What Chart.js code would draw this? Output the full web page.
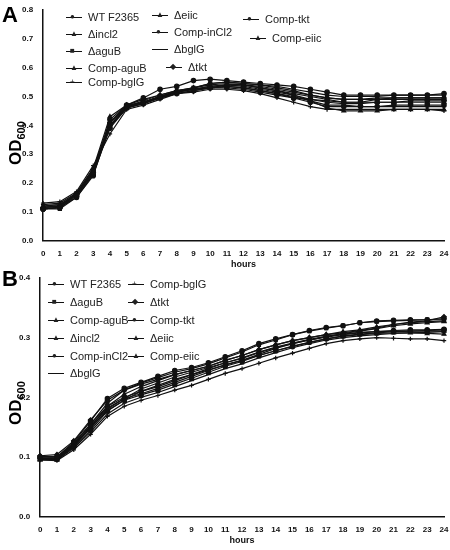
<!DOCTYPE html>
<html><head><meta charset="utf-8">
<script src="https://cdn.jsdelivr.net/npm/chart.js@4"></script>
<style>
body{margin:0;background:#fff;font-family:Arial,"Liberation Sans",sans-serif;}
#wrap{position:relative;width:450px;height:550px;}
canvas{position:absolute;left:0;}
.lab{position:absolute;font-weight:bold;font-size:22px;}
.yt{position:absolute;font-weight:bold;font-size:17px;transform:rotate(-90deg);transform-origin:left top;white-space:nowrap;}
.yt sub{font-size:11px;}
.leg{position:absolute;font-size:11px;color:#222;white-space:nowrap;display:flex;align-items:center;height:14px;}
.sw{position:relative;display:inline-block;width:16px;height:14px;margin-right:6px;}
.sw .ln{position:absolute;left:0;top:7px;width:16px;border-top:1.3px solid #111;}
.sw .mk{position:absolute;left:4px;top:0;font-size:8px;line-height:14px;}
</style></head><body>
<div id="wrap">
<canvas id="a" width="450" height="270" style="top:0"></canvas>
<canvas id="b" width="450" height="280" style="top:270px"></canvas>
<div class="lab" style="left:2px;top:2px">A</div>
<div class="lab" style="left:2px;top:266px">B</div>
<div class="yt" style="left:6px;top:165px">OD<sub>600</sub></div>
<div class="yt" style="left:6px;top:425px">OD<sub>600</sub></div>
<div id="legs"></div>
</div>
<script>
const hours=[0,1,2,3,4,5,6,7,8,9,10,11,12,13,14,15,16,17,18,19,20,21,22,23,24].map(String);
const namesA=["WT F2365","Δincl2","ΔaguB","Comp-aguB","Comp-bglG","Δeiic","Comp-inCl2","ΔbglG","Δtkt","Comp-tkt","Comp-eiic"];
const A_wt   =[0.110,0.115,0.160,0.240,0.420,0.470,0.495,0.525,0.535,0.555,0.560,0.555,0.550,0.545,0.540,0.535,0.525,0.515,0.505,0.505,0.505,0.505,0.505,0.505,0.510];
const A_incl2=[0.115,0.120,0.165,0.250,0.430,0.470,0.480,0.500,0.520,0.530,0.540,0.545,0.540,0.530,0.520,0.510,0.500,0.490,0.480,0.480,0.490,0.490,0.490,0.490,0.490];
const A_agub =[0.110,0.110,0.150,0.230,0.400,0.460,0.480,0.500,0.515,0.530,0.545,0.550,0.545,0.540,0.535,0.525,0.515,0.505,0.500,0.500,0.500,0.505,0.505,0.505,0.505];
const A_cagub=[0.120,0.125,0.160,0.245,0.410,0.465,0.485,0.505,0.520,0.525,0.535,0.540,0.535,0.525,0.515,0.505,0.490,0.480,0.475,0.475,0.480,0.480,0.480,0.480,0.480];
const A_cbglg=[0.130,0.135,0.170,0.260,0.370,0.455,0.470,0.490,0.510,0.515,0.525,0.525,0.520,0.510,0.495,0.480,0.465,0.455,0.455,0.455,0.455,0.455,0.455,0.455,0.450];
const A_eiic =[0.115,0.120,0.160,0.240,0.410,0.465,0.480,0.500,0.515,0.525,0.535,0.540,0.540,0.535,0.525,0.515,0.505,0.495,0.490,0.490,0.495,0.495,0.495,0.495,0.495];
const A_cincl=[0.110,0.115,0.155,0.230,0.390,0.460,0.475,0.495,0.510,0.520,0.530,0.535,0.530,0.520,0.510,0.495,0.480,0.465,0.465,0.465,0.465,0.470,0.470,0.470,0.470];
const A_bglg =[0.125,0.130,0.165,0.250,0.400,0.460,0.475,0.495,0.515,0.525,0.530,0.535,0.530,0.520,0.510,0.500,0.485,0.470,0.470,0.465,0.465,0.465,0.465,0.465,0.465];
const A_tkt  =[0.115,0.120,0.160,0.235,0.410,0.470,0.490,0.505,0.520,0.530,0.545,0.550,0.545,0.540,0.530,0.520,0.505,0.495,0.490,0.490,0.490,0.495,0.495,0.495,0.495];
const A_ctkt =[0.110,0.115,0.150,0.225,0.400,0.465,0.480,0.500,0.515,0.525,0.530,0.530,0.525,0.515,0.505,0.495,0.490,0.485,0.480,0.480,0.480,0.480,0.485,0.485,0.485];
const A_ceiic=[0.120,0.125,0.160,0.240,0.395,0.460,0.480,0.495,0.510,0.520,0.530,0.540,0.540,0.530,0.520,0.505,0.485,0.460,0.450,0.450,0.450,0.455,0.455,0.455,0.455];
const seriesA=[A_wt,A_incl2,A_agub,A_cagub,A_cbglg,A_eiic,A_cincl,A_bglg,A_tkt,A_ctkt,A_ceiic];
const stylesA=["circle","triangle","rect","triangle","cross","triangle","circle","line","rectRot","circle","triangle"];

const namesB=["WT F2365","ΔaguB","Comp-aguB","Δincl2","Comp-inCl2","ΔbglG","Comp-bglG","Δtkt","Comp-tkt","Δeiic","Comp-eiic"];
const B_wt   =[0.100,0.100,0.125,0.160,0.198,0.215,0.225,0.235,0.245,0.250,0.258,0.268,0.278,0.290,0.298,0.305,0.312,0.317,0.320,0.325,0.328,0.329,0.330,0.330,0.332];
const B_agub =[0.098,0.098,0.122,0.155,0.190,0.212,0.224,0.233,0.242,0.248,0.256,0.266,0.276,0.288,0.296,0.305,0.311,0.316,0.320,0.325,0.327,0.328,0.329,0.330,0.330];
const B_cagub=[0.095,0.095,0.118,0.150,0.185,0.205,0.218,0.228,0.238,0.245,0.252,0.262,0.270,0.280,0.288,0.295,0.300,0.305,0.310,0.313,0.318,0.322,0.325,0.327,0.328];
const B_incl2=[0.100,0.100,0.120,0.148,0.180,0.198,0.206,0.215,0.225,0.235,0.245,0.255,0.262,0.272,0.282,0.290,0.296,0.302,0.307,0.311,0.315,0.320,0.323,0.325,0.327];
const B_cincl=[0.098,0.096,0.117,0.145,0.177,0.195,0.204,0.212,0.222,0.232,0.242,0.252,0.260,0.270,0.278,0.285,0.292,0.298,0.303,0.306,0.308,0.310,0.311,0.312,0.313];
const B_bglg =[0.097,0.095,0.115,0.142,0.172,0.190,0.200,0.208,0.218,0.228,0.238,0.248,0.256,0.266,0.275,0.283,0.290,0.296,0.300,0.303,0.305,0.307,0.308,0.309,0.310];
const B_cbglg=[0.095,0.094,0.112,0.138,0.168,0.185,0.195,0.203,0.212,0.220,0.230,0.240,0.248,0.257,0.266,0.274,0.282,0.290,0.295,0.298,0.300,0.299,0.298,0.298,0.295];
const B_tkt  =[0.102,0.104,0.127,0.162,0.195,0.212,0.222,0.230,0.238,0.245,0.252,0.262,0.270,0.280,0.288,0.295,0.300,0.305,0.308,0.312,0.316,0.322,0.326,0.328,0.335];
const B_ctkt =[0.100,0.100,0.123,0.155,0.185,0.200,0.210,0.220,0.230,0.238,0.248,0.258,0.265,0.275,0.283,0.290,0.296,0.301,0.305,0.308,0.310,0.312,0.313,0.313,0.314];
const B_eiic =[0.097,0.098,0.120,0.152,0.182,0.198,0.214,0.224,0.234,0.242,0.250,0.258,0.266,0.276,0.284,0.291,0.297,0.302,0.306,0.309,0.310,0.311,0.311,0.311,0.311];
const B_ceiic=[0.096,0.097,0.118,0.150,0.178,0.195,0.210,0.218,0.228,0.238,0.246,0.254,0.262,0.270,0.278,0.286,0.292,0.298,0.302,0.305,0.307,0.308,0.308,0.307,0.306];
const seriesB=[B_wt,B_agub,B_cagub,B_incl2,B_cincl,B_bglg,B_cbglg,B_tkt,B_ctkt,B_eiic,B_ceiic];
const stylesB=["circle","rect","triangle","triangle","circle","line","cross","rectRot","circle","triangle","triangle"];

function mk(id,names,series,styles,max,step,pad){
  new Chart(document.getElementById(id),{type:'line',
    data:{labels:hours,datasets:series.map((d,i)=>({label:names[i],data:d,borderColor:'#111',backgroundColor:'#111',
      borderWidth:1.2,pointStyle:styles[i],pointRadius:2.2,pointBorderColor:'#111',tension:0}))},
    options:{responsive:false,animation:false,layout:{padding:pad},
      plugins:{legend:{display:false},tooltip:{enabled:false}},
      scales:{
        x:{grid:{display:false},border:{color:'#111',width:1.5},offset:false,
           ticks:{color:'#111',font:{size:8,weight:'bold'},maxRotation:0,autoSkip:false,padding:0},
           title:{display:true,text:'hours',font:{size:9,weight:'bold'},color:'#111',padding:{top:1,bottom:0}}},
        y:{min:0,max:max,grid:{display:false},border:{color:'#111',width:1.5},
           ticks:{stepSize:step,color:'#111',font:{size:8,weight:'bold'},padding:2,callback:v=>v.toFixed(1)}}
      }}});
}
mk('a',namesA,seriesA,stylesA,0.8,0.1,{left:20,right:6,top:10,bottom:0});
mk('b',namesB,seriesB,stylesB,0.4,0.1,{left:17,right:6,top:8,bottom:4});

const legA=[[0,66,10],[1,66,27],[2,66,44],[3,66,61],[4,66,75],[5,152,8],[6,152,25],[7,152,42],[8,166,60],[9,243,12],[10,250,31]];
const legB=[[0,48,277],[1,48,295],[2,48,313],[3,48,331],[4,48,349],[5,48,366],[6,128,277],[7,128,295],[8,128,313],[9,128,331],[10,128,349]];
const box=document.getElementById('legs');
function sym(s){return {circle:'●',rect:'■',triangle:'▲',cross:'+',line:'',rectRot:'◆'}[s];}
function addLeg(list,names,styles){list.forEach(([i,x,y])=>{const d=document.createElement('div');d.className='leg';d.style.left=x+'px';d.style.top=y+'px';
  d.innerHTML='<span class="sw"><span class="ln"></span><span class="mk">'+sym(styles[i])+'</span></span><span>'+names[i]+'</span>';box.appendChild(d);});}
addLeg(legA,namesA,stylesA);addLeg(legB,namesB,stylesB);
</script></body></html>
